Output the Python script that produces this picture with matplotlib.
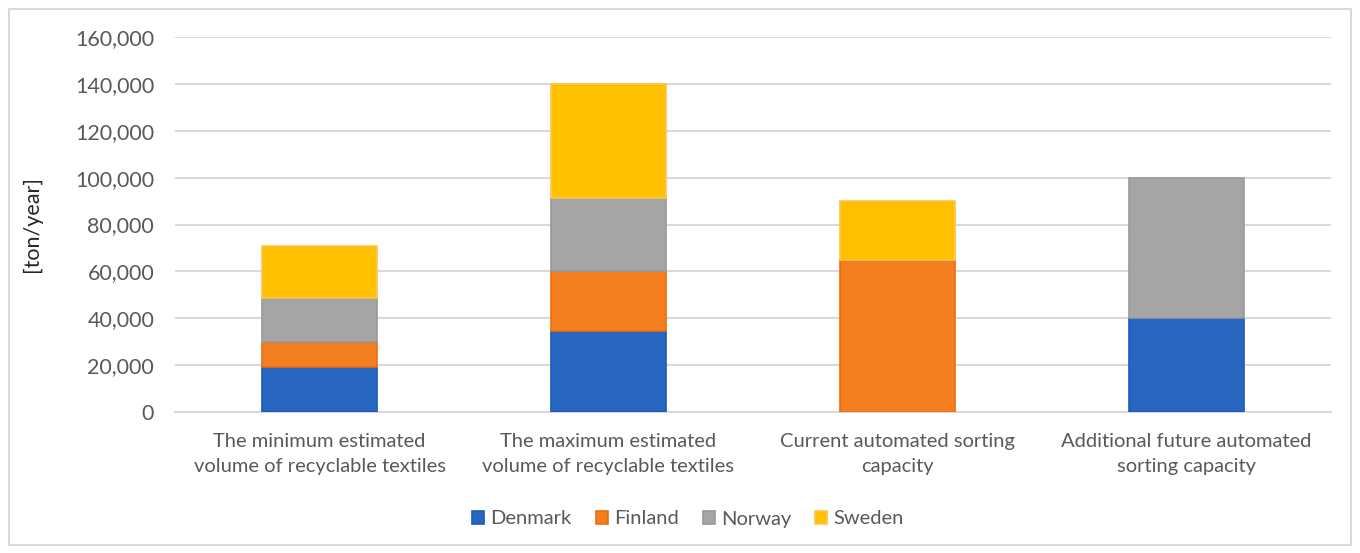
import matplotlib.pyplot as plt
from matplotlib.patches import Rectangle
from matplotlib.ticker import FuncFormatter

# data
categories = [
    "The minimum estimated\nvolume of recyclable textiles",
    "The maximum estimated\nvolume of recyclable textiles",
    "Current automated sorting\ncapacity",
    "Additional future automated\nsorting capacity",
]
countries = ["Denmark", "Finland", "Norway", "Sweden"]
denmark = [19000, 34500, 0, 40000]
finland = [11000, 25500, 65000, 0]
norway = [18500, 31500, 0, 60000]
sweden = [22500, 48500, 25000, 0]

colors = ["#2966C0", "#F47F20", "#A5A5A5", "#FFC000"]
edges = ["#1A5BC0", "#EC6E10", "#9A9A9A", "#FFC44D"]

plt.rcParams['font.family'] = ['Lato', 'DejaVu Sans']

fig = plt.figure(figsize=(13.6, 5.53), dpi=100)
ax = fig.add_axes([175 / 1360, 1 - 412 / 553, 1156 / 1360, 375 / 553])

x = list(range(len(categories)))
bottom = [0] * len(categories)
for name, vals, c, ec in zip(countries, [denmark, finland, norway, sweden], colors, edges):
    bars = ax.bar(x, vals, 0.4, bottom=bottom, color=c, edgecolor=ec, linewidth=1.2,
                  label=name, zorder=3)
    # no outline for empty segments
    for b, v in zip(bars, vals):
        if v == 0:
            b.set_linewidth(0)
    bottom = [b + v for b, v in zip(bottom, vals)]

ax.set_xlim(-0.5, 3.5)
ax.set_ylim(0, 160000)
ax.set_yticks(range(0, 160001, 20000))
ax.yaxis.set_major_formatter(FuncFormatter(lambda v, p: f"{int(v):,}"))
ax.grid(axis='y', color='#D9D9D9', linewidth=1.5, zorder=0)
for s in ['top', 'right', 'left']:
    ax.spines[s].set_visible(False)
ax.spines['bottom'].set_color('#D9D9D9')
ax.spines['bottom'].set_linewidth(1.5)
ax.tick_params(axis='y', length=0, labelsize=15.5, colors='#595959', pad=15)
ax.tick_params(axis='x', length=0, labelsize=14.5, colors='#595959', pad=15)
ax.set_xticks(x)
ax.set_xticklabels(categories, linespacing=1.6)
ax.set_ylabel("[ton/year]", fontsize=15.5, color='#262626', labelpad=24)

ax.legend(loc='center', bbox_to_anchor=(688 / 1360, 1 - 519 / 553),
          bbox_transform=fig.transFigure, ncol=4, frameon=False, fontsize=14.5,
          labelcolor='#595959', handlelength=0.6, handleheight=0.6,
          handletextpad=0.3, columnspacing=1.2)

# outer frame
fig.patches.append(Rectangle((9 / 1360, 8 / 553), 1342 / 1360, 536 / 553,
                             transform=fig.transFigure, fill=False,
                             edgecolor='#D9D9D9', linewidth=1.5))

fig.savefig("out.png", dpi=100)
